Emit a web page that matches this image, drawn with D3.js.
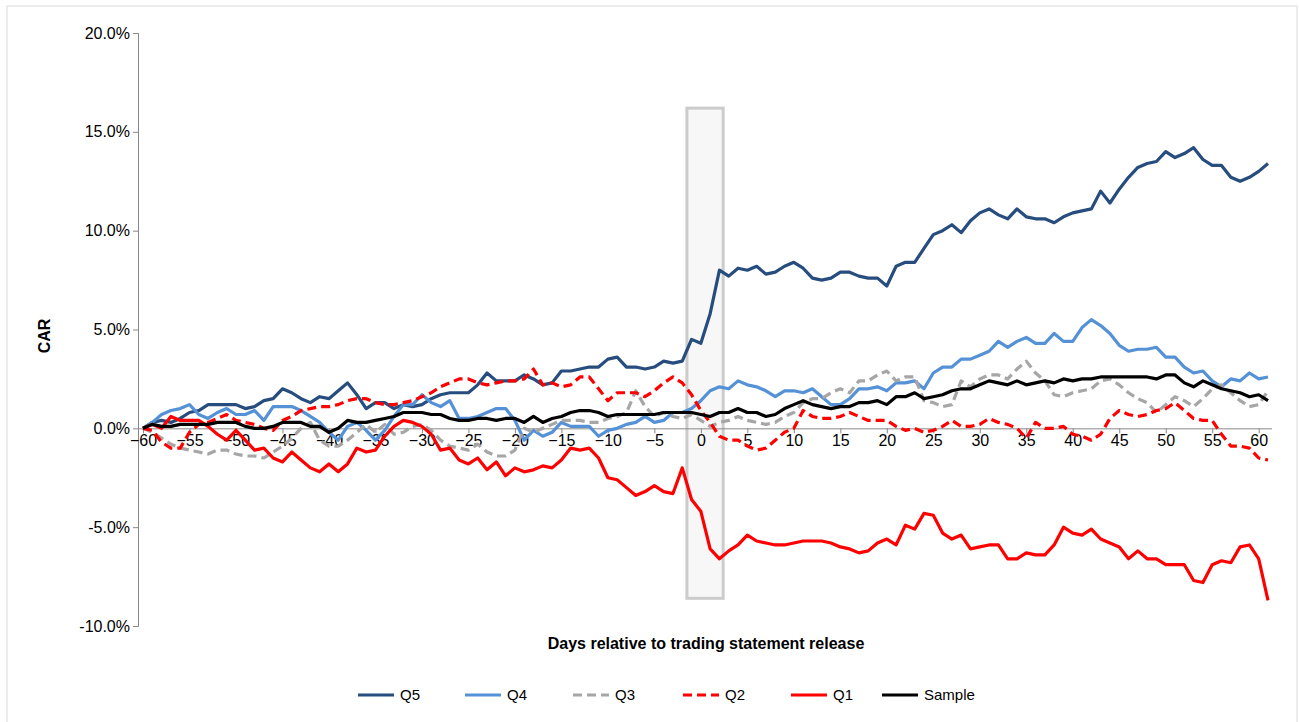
<!DOCTYPE html>
<html>
<head>
<meta charset="UTF-8">
<script src="https://cdn.jsdelivr.net/npm/d3@7"></script>
<style>
body{ margin:0; background:#fff; font-family:"Liberation Sans", Arial, sans-serif; }
</style>
</head>
<body>
<script>
var width = 1299, height = 722;

var days = d3.range(-60, 62);
var q5 = [0,0.3,0.4,0.3,0.5,0.8,0.9,1.2,1.2,1.2,1.2,1.0,1.1,1.4,1.5,2.0,1.8,1.5,1.3,1.6,1.5,1.9,2.3,1.7,1.0,1.3,1.3,1.0,1.2,1.1,1.2,1.5,1.7,1.8,1.8,1.8,2.2,2.8,2.4,2.4,2.4,2.7,2.5,2.2,2.3,2.9,2.9,3.0,3.1,3.1,3.5,3.6,3.1,3.1,3.0,3.1,3.4,3.3,3.4,4.5,4.3,5.8,8.0,7.7,8.1,8.0,8.2,7.8,7.9,8.2,8.4,8.1,7.6,7.5,7.6,7.9,7.9,7.7,7.6,7.6,7.2,8.2,8.4,8.4,9.1,9.8,10.0,10.3,9.9,10.5,10.9,11.1,10.8,10.6,11.1,10.7,10.6,10.6,10.4,10.7,10.9,11.0,11.1,12.0,11.4,12.1,12.7,13.2,13.4,13.5,14.0,13.7,13.9,14.2,13.6,13.3,13.3,12.7,12.5,12.7,13.0,13.4];
var q4 = [0,0.3,0.7,0.9,1.0,1.2,0.7,0.5,0.8,1.0,0.7,0.7,0.9,0.4,1.1,1.1,1.1,0.9,0.6,0.3,-0.2,-0.6,0.1,0.3,-0.1,-0.6,-0.1,0.6,1.2,1.2,1.7,1.3,1.1,1.4,0.5,0.5,0.6,0.8,1.0,1.0,0.4,-0.6,-0.1,-0.4,-0.2,0.3,0.1,0.1,0.1,-0.4,-0.1,0.0,0.2,0.3,0.6,0.3,0.4,0.8,0.8,1.0,1.4,1.9,2.1,2.0,2.4,2.2,2.1,1.9,1.6,1.9,1.9,1.8,2.0,1.6,1.2,1.2,1.5,2.0,2.0,2.1,1.9,2.3,2.3,2.4,2.0,2.8,3.1,3.1,3.5,3.5,3.7,3.9,4.4,4.1,4.4,4.6,4.3,4.3,4.8,4.4,4.4,5.1,5.5,5.2,4.8,4.2,3.9,4.0,4.0,4.1,3.6,3.6,3.1,2.8,2.9,2.4,2.1,2.5,2.4,2.8,2.5,2.6];
var q3 = [0,-0.2,-0.5,-0.8,-1.0,-1.1,-1.2,-1.3,-1.1,-1.1,-1.3,-1.4,-1.4,-1.5,-1.2,-0.9,-0.5,0.0,0.3,-0.6,-0.9,-0.9,-0.6,-0.2,0.2,-0.2,0.2,-0.3,-0.2,0.1,0.2,-0.1,-0.6,-0.9,-1.0,-1.1,-0.8,-1.2,-1.4,-1.4,-1.1,0.0,-0.2,0.0,0.2,0.4,0.4,0.4,0.3,0.3,0.5,0.6,0.8,1.9,1.1,0.6,0.8,0.6,0.5,0.7,0.4,0.1,0.3,0.4,0.6,0.4,0.3,0.2,0.3,0.6,0.8,1.3,1.5,1.5,1.8,2.0,1.8,2.4,2.4,2.7,2.9,2.4,2.6,2.6,1.4,1.3,1.1,1.2,2.4,2.1,2.5,2.7,2.7,2.5,3.0,3.4,2.8,2.4,1.7,1.6,1.8,1.9,2.0,2.4,2.5,2.2,1.8,1.5,1.3,0.8,1.2,1.6,1.4,1.1,1.5,2.0,2.2,1.8,1.4,1.1,1.2,1.9];
var q2 = [0,-0.1,-0.7,-1.0,-1.0,-0.2,0.2,0.3,0.5,0.7,0.4,0.3,0.2,0.0,-0.1,0.4,0.6,0.9,1.0,1.1,1.1,1.2,1.4,1.5,1.5,1.3,1.2,1.2,1.3,1.4,1.6,1.8,2.1,2.3,2.5,2.5,2.3,2.2,2.3,2.4,2.4,2.5,3.0,2.2,2.3,2.1,2.2,2.6,2.6,2.0,1.4,1.8,1.8,1.8,1.6,1.9,2.3,2.6,2.3,1.7,0.9,0.3,-0.4,-0.6,-0.6,-0.9,-1.1,-1.0,-0.6,-0.2,0.0,0.9,0.6,0.5,0.5,0.6,0.8,0.6,0.4,0.4,0.4,0.1,-0.1,0.0,-0.2,-0.1,0.1,0.4,0.1,0.1,0.2,0.5,0.3,0.2,0.0,-0.5,0.3,0.0,0.0,0.1,-0.3,-0.4,-0.6,-0.3,0.5,0.9,0.7,0.6,0.7,0.9,1.0,1.3,0.9,0.5,0.4,0.4,-0.3,-0.9,-0.9,-1.0,-1.5,-1.6];
var q1 = [0,0.2,0.0,0.6,0.4,0.4,0.4,0.1,-0.3,-0.6,-0.1,-0.6,-1.1,-1.0,-1.5,-1.7,-1.2,-1.6,-2.0,-2.2,-1.8,-2.2,-1.8,-1.0,-1.2,-1.1,-0.4,0.1,0.4,0.3,0.1,-0.3,-1.1,-1.0,-1.6,-1.8,-1.5,-2.1,-1.7,-2.4,-2.0,-2.2,-2.1,-1.9,-2.0,-1.6,-1.0,-1.1,-1.0,-1.5,-2.5,-2.6,-3.0,-3.4,-3.2,-2.9,-3.2,-3.3,-2.0,-3.6,-4.2,-6.1,-6.6,-6.2,-5.9,-5.4,-5.7,-5.8,-5.9,-5.9,-5.8,-5.7,-5.7,-5.7,-5.8,-6.0,-6.1,-6.3,-6.2,-5.8,-5.6,-5.9,-4.9,-5.1,-4.3,-4.4,-5.3,-5.6,-5.4,-6.1,-6.0,-5.9,-5.9,-6.6,-6.6,-6.3,-6.4,-6.4,-5.9,-5.0,-5.3,-5.4,-5.1,-5.6,-5.8,-6.0,-6.6,-6.2,-6.6,-6.6,-6.9,-6.9,-6.9,-7.7,-7.8,-6.9,-6.7,-6.8,-6.0,-5.9,-6.6,-8.7];
var sample = [0,0.2,0.1,0.1,0.2,0.2,0.2,0.2,0.3,0.3,0.3,0.1,0.0,0.0,0.1,0.3,0.3,0.3,0.1,0.1,-0.2,0.0,0.4,0.3,0.3,0.4,0.5,0.6,0.8,0.8,0.8,0.7,0.7,0.5,0.4,0.4,0.5,0.5,0.4,0.5,0.5,0.3,0.6,0.3,0.5,0.6,0.8,0.9,0.9,0.8,0.6,0.7,0.7,0.7,0.7,0.7,0.8,0.8,0.8,0.8,0.7,0.6,0.8,0.8,1.0,0.8,0.8,0.6,0.7,1.0,1.2,1.4,1.2,1.1,1.0,1.1,1.1,1.3,1.3,1.4,1.2,1.6,1.6,1.8,1.5,1.6,1.7,1.9,2.0,2.0,2.2,2.4,2.3,2.2,2.4,2.2,2.3,2.4,2.3,2.5,2.4,2.5,2.5,2.6,2.6,2.6,2.6,2.6,2.6,2.5,2.7,2.7,2.3,2.1,2.4,2.2,2.0,1.9,1.8,1.6,1.7,1.4];

var yTicks = [-10, -5, 0, 5, 10, 15, 20];
var xTicks = d3.range(-60, 61, 5);

var series = [
  {name:"Q5", values:q5, color:"#264d7e", dash:null},
  {name:"Q4", values:q4, color:"#5591d6", dash:null},
  {name:"Q3", values:q3, color:"#a6a6a6", dash:"9,5"},
  {name:"Q2", values:q2, color:"#ff0000", dash:"9,5"},
  {name:"Q1", values:q1, color:"#ff0000", dash:null},
  {name:"Sample", values:sample, color:"#000000", dash:null}
];

var x = d3.scaleLinear().domain([-60, 61]).range([143, 1268]);
var y = d3.scaleLinear().domain([-10, 20]).range([626, 33]);

var svg = d3.select('body').append('svg')
    .attr('width', width).attr('height', height);

svg.append("rect").attr("x", 7).attr("y", 6).attr("width", 1290).attr("height", 720)
    .attr("fill", "none").attr("stroke", "#d9d9d9")

// event window box, behind the lines
svg.append("rect")
    .attr("x", x(-1.5)).attr("y", y(16.2))
    .attr("width", x(2.4) - x(-1.5)).attr("height", y(-8.6) - y(16.2))
    .attr("fill", "#f7f7f7")
    .attr("stroke", "#cccccc").attr("stroke-width", 3)

// y axis
var yAxis = svg.append("g").attr("transform", "translate(138,0)")
    .call(d3.axisLeft(y).tickValues(yTicks).tickSize(5).tickFormat(function(d){ return d.toFixed(1) + "%" }))
yAxis.select(".domain").attr("stroke", "#888")
yAxis.selectAll(".tick line").attr("stroke", "#888")
yAxis.selectAll("text").attr("font-size", 16).attr("fill", "#000").attr("font-family", "Liberation Sans")

// x axis
var xAxis = svg.append("g").attr("transform", "translate(0," + y(0) + ")")
    .call(d3.axisBottom(x).tickValues(xTicks).tickSize(5).tickSizeOuter(0))
xAxis.select(".domain").attr("stroke", "#888").attr("d", "M138,0.5H1272")
xAxis.selectAll(".tick line").attr("stroke", "#888")
xAxis.selectAll("text").attr("font-size", 16).attr("fill", "#000").attr("dy", "0.6em").attr("font-family", "Liberation Sans")

var line = d3.line()
    .x(function(d, i){ return x(days[i]) })
    .y(function(d){ return y(d) })

series.forEach(function(s){
  svg.append("path").datum(s.values)
    .attr("d", line)
    .attr("fill", "none")
    .attr("stroke", s.color)
    .attr("stroke-width", 3.2)
    .attr("stroke-linejoin", "round")
    .attr("stroke-dasharray", s.dash)
})

svg.append("text")
    .attr("transform", "translate(50,336) rotate(-90)")
    .attr("text-anchor", "middle").attr("font-size", 16).attr("font-weight", "bold")
    .text("CAR")

svg.append("text")
    .attr("x", 706).attr("y", 649)
    .attr("text-anchor", "middle").attr("font-size", 16).attr("font-weight", "bold")
    .text("Days relative to trading statement release")

// legend
var lx = [358, 465, 573, 683, 791, 882];
series.forEach(function(s, i){
  var g = svg.append("g").attr("transform", "translate(" + lx[i] + ",695)")
  g.append("line").attr("x1", 0).attr("x2", 36).attr("y1", 0).attr("y2", 0)
    .attr("stroke", s.color).attr("stroke-width", 3.2).attr("stroke-dasharray", s.dash)
  g.append("text").attr("x", 42).attr("y", 5).attr("font-size", 15).text(s.name)
})
</script>
</body>
</html>
